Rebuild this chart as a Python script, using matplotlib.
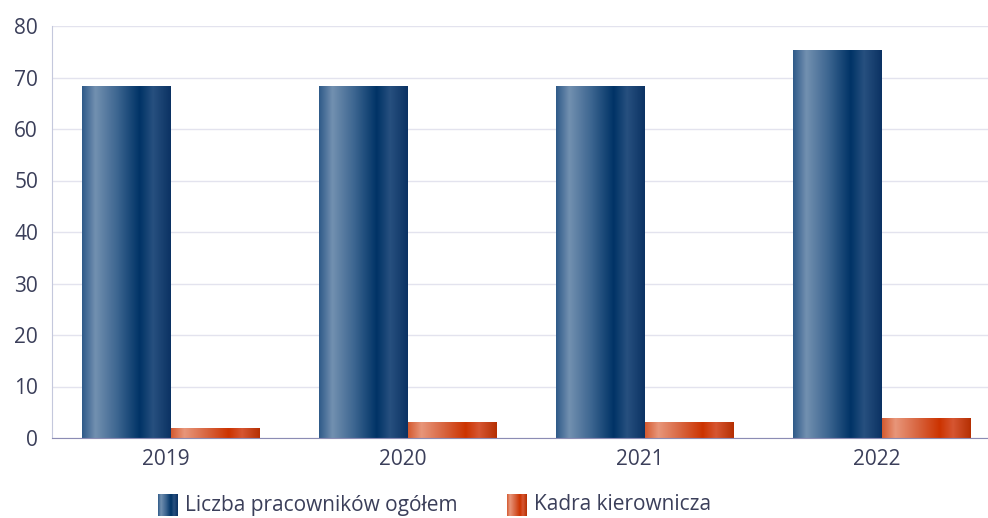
import numpy as np
import matplotlib.pyplot as plt
from matplotlib.colors import LinearSegmentedColormap

plt.rcParams['font.family'] = ['Open Sans', 'DejaVu Sans']

years = ['2019', '2020', '2021', '2022']
total = [68.4, 68.4, 68.4, 75.4]
managers = [2.0, 3.1, 3.1, 3.9]
labels = ['Liczba pracowników ogółem', 'Kadra kierownicza']

blue_cmap = LinearSegmentedColormap.from_list('blue', [
    (0.0, '#2f5a88'), (0.15, '#7290b0'), (0.4, '#3c6590'),
    (0.65, '#003366'), (0.8, '#27507f'), (1.0, '#0b3263')])
orange_cmap = LinearSegmentedColormap.from_list('orange', [
    (0.0, '#d45a30'), (0.15, '#e8967a'), (0.4, '#d86540'),
    (0.65, '#cc3300'), (0.8, '#d65632'), (1.0, '#b52f02')])
grad = np.linspace(0, 1, 256).reshape(1, -1)

fig = plt.figure(figsize=(9.88, 5.18), dpi=100)
# plot area runs a little past the right edge of the picture, as in the original
ax = fig.add_axes([52 / 988, 80 / 518, 948 / 988, 412 / 518])

x = np.arange(len(years))
w = 0.375


def gradient_bars(xs, vals, cmap):
    bars = ax.bar(xs, vals, w, color='none', edgecolor='none', zorder=3)
    for b in bars:
        x0, y0 = b.get_x(), b.get_y()
        im = ax.imshow(grad, extent=[x0, x0 + b.get_width(), y0, y0 + b.get_height()],
                       aspect='auto', cmap=cmap, zorder=3)
        im.set_clip_path(b)


gradient_bars(x - w / 2, total, blue_cmap)
gradient_bars(x + w / 2, managers, orange_cmap)

ax.set_xlim(-0.5, len(years) - 0.5)
ax.set_ylim(0, 80)
ax.set_yticks(range(0, 81, 10))
ax.set_xticks(x - 0.02)
ax.set_xticklabels(years)
ax.grid(axis='y', color='#e3e3ee', linewidth=1, zorder=0)
ax.set_axisbelow(True)
for s in ['top', 'right']:
    ax.spines[s].set_visible(False)
ax.spines['left'].set_color('#c4c8dc')
ax.spines['bottom'].set_color('#8c8cb4')
ax.spines['bottom'].set_zorder(4)
ax.tick_params(length=0, labelsize=15, colors='#3b3f5a', pad=8)
ax.tick_params(axis='y', pad=10)

# legend swatches drawn as gradient images
for i, (lab, cmap) in enumerate([(labels[0], blue_cmap), (labels[1], orange_cmap)]):
    left = [158, 507][i]
    sax = fig.add_axes([left / 988, (518 - 516) / 518, 20 / 988, 22 / 518])
    sax.imshow(grad, aspect='auto', cmap=cmap)
    sax.axis('off')
    fig.text((left + 27) / 988, (518 - 505) / 518, lab, fontsize=15,
             color='#3b3f5a', va='center', ha='left')

fig.savefig('out.png', dpi=100)
